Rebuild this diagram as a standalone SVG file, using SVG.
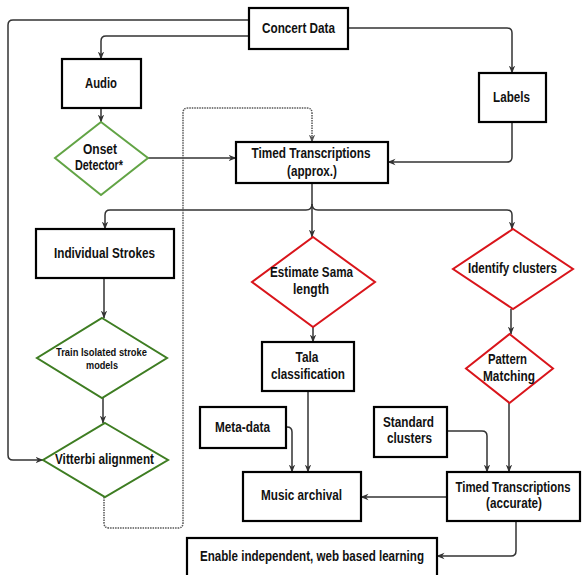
<svg xmlns="http://www.w3.org/2000/svg" width="582" height="575" viewBox="0 0 582 575">
<style>
.box{fill:#fff;stroke:#000;stroke-width:2.2}
.dg{fill:#fff;stroke:#3e7d22;stroke-width:2}
.dl{fill:#fff;stroke:#62a445;stroke-width:2}
.dr{fill:#fff;stroke:#d9151b;stroke-width:2}
text{font-family:"Liberation Sans",Arial,sans-serif;font-weight:bold;font-size:15px;fill:#111;text-anchor:middle}
.sm{font-size:11px}
.c{fill:none;stroke:#333;stroke-width:1.5}
.dot{fill:none;stroke:#555;stroke-width:1.5;stroke-dasharray:1.5 1}
</style>
<defs>
<marker id="a" viewBox="0 0 8 8" markerWidth="8" markerHeight="8" refX="7.5" refY="4" orient="auto" markerUnits="userSpaceOnUse">
<path d="M0,0.8 L8,4 L0,7.2 L2.5,4 Z" fill="#333"/>
</marker>
<marker id="ad" viewBox="0 0 8 8" markerWidth="8" markerHeight="8" refX="7.5" refY="4" orient="auto" markerUnits="userSpaceOnUse">
<path d="M0,0.8 L8,4 L0,7.2 L2.5,4 Z" fill="#555"/>
</marker>
</defs>
<g id="connectors">
<path class="c" marker-end="url(#a)" d="M249,20 H13 Q8,20 8,25 V455 Q8,460 13,460 H43"/>
<path class="c" marker-end="url(#a)" d="M249,36 H106 Q101,36 101,41 V59"/>
<path class="c" marker-end="url(#a)" d="M348,28 H507 Q512,28 512,33 V73"/>
<path class="c" marker-end="url(#a)" d="M512,122 V157 Q512,162 507,162 H388"/>
<path class="c" marker-end="url(#a)" d="M148,158 H236"/>
<path class="c" marker-end="url(#a)" d="M101,108 V122"/>
<path class="c" marker-end="url(#a)" d="M312,183 V237"/>
<path class="c" marker-end="url(#a)" d="M312,204 Q312,210 306,210 H110 Q105,210 105,215 V229"/>
<path class="c" marker-end="url(#a)" d="M312,204 Q312,210 318,210 H507 Q512,210 512,215 V229"/>
<path class="c" marker-end="url(#a)" d="M104,278 V318"/>
<path class="c" marker-end="url(#a)" d="M103,398 V423"/>
<path class="c" marker-end="url(#a)" d="M313,327 V342"/>
<path class="c" marker-end="url(#a)" d="M511,309 V334"/>
<path class="c" marker-end="url(#a)" d="M286,427 H287 Q292,427 292,432 V472"/>
<path class="c" marker-end="url(#a)" d="M308,391 V472"/>
<path class="c" marker-end="url(#a)" d="M447,431 H482 Q487,431 487,436 V472"/>
<path class="c" marker-end="url(#a)" d="M509,403 V472"/>
<path class="c" marker-end="url(#a)" d="M447,497 H361"/>
<path class="c" marker-end="url(#a)" d="M516,521 V551 Q516,556 511,556 H437"/>
<path class="dot" marker-end="url(#ad)" d="M104,497 V523 Q104,528 109,528 H178 Q183,528 183,523 V113 Q183,108 188,108 H307 Q312,108 312,113 V142"/>
</g>
<g id="concert-data"><rect class="box" x="249" y="8" width="99" height="41"/><text x="298.5" y="33" textLength="73" lengthAdjust="spacingAndGlyphs">Concert Data</text></g>
<g id="audio"><rect class="box" x="62" y="59" width="79" height="49"/><text x="101" y="88" textLength="32" lengthAdjust="spacingAndGlyphs">Audio</text></g>
<g id="labels"><rect class="box" x="479" y="73" width="67" height="49"/><text x="511.5" y="102" textLength="37" lengthAdjust="spacingAndGlyphs">Labels</text></g>
<g id="onset-detector"><polygon class="dl" points="101,122 148,158 101,195 55,158"/><text x="100" y="154" textLength="34" lengthAdjust="spacingAndGlyphs">Onset</text><text x="99" y="170" textLength="48" lengthAdjust="spacingAndGlyphs">Detector*</text></g>
<g id="timed-approx"><rect class="box" x="236" y="142" width="152" height="41"/><text x="311" y="158" textLength="119" lengthAdjust="spacingAndGlyphs">Timed Transcriptions</text><text x="312" y="176" textLength="50" lengthAdjust="spacingAndGlyphs">(approx.)</text></g>
<g id="individual-strokes"><rect class="box" x="36" y="229" width="138" height="49"/><text x="104.5" y="258" textLength="101" lengthAdjust="spacingAndGlyphs">Individual Strokes</text></g>
<g id="train-models"><polygon class="dg" points="102,318 167,358 102,398 37,358"/><text class="sm" x="101.5" y="356" textLength="91" lengthAdjust="spacingAndGlyphs">Train Isolated stroke</text><text class="sm" x="102" y="369" textLength="32" lengthAdjust="spacingAndGlyphs">models</text></g>
<g id="vitterbi"><polygon class="dg" points="105,423 168,460 105,497 43,460"/><text x="104.5" y="464" textLength="99" lengthAdjust="spacingAndGlyphs">Vitterbi alignment</text></g>
<g id="estimate-sama"><polygon class="dr" points="313,237 375,282 313,327 252,282"/><text x="311.5" y="277" textLength="83" lengthAdjust="spacingAndGlyphs">Estimate Sama</text><text x="311" y="294" textLength="36" lengthAdjust="spacingAndGlyphs">length</text></g>
<g id="identify-clusters"><polygon class="dr" points="513,229 573,269 513,309 453,269"/><text x="512.5" y="273" textLength="89" lengthAdjust="spacingAndGlyphs">Identify clusters</text></g>
<g id="pattern-matching"><polygon class="dr" points="509.5,334 553,368.5 509.5,403 466,368.5"/><text x="507.5" y="364" textLength="39" lengthAdjust="spacingAndGlyphs">Pattern</text><text x="509" y="381" textLength="52" lengthAdjust="spacingAndGlyphs">Matching</text></g>
<g id="tala-classification"><rect class="box" x="262" y="342" width="92" height="49"/><text x="307" y="362" textLength="23" lengthAdjust="spacingAndGlyphs">Tala</text><text x="308" y="379" textLength="74" lengthAdjust="spacingAndGlyphs">classification</text></g>
<g id="meta-data"><rect class="box" x="200" y="407" width="86" height="41"/><text x="242.5" y="432" textLength="55" lengthAdjust="spacingAndGlyphs">Meta-data</text></g>
<g id="standard-clusters"><rect class="box" x="374" y="407" width="73" height="50"/><text x="408.5" y="427" textLength="51" lengthAdjust="spacingAndGlyphs">Standard</text><text x="409.5" y="443" textLength="45" lengthAdjust="spacingAndGlyphs">clusters</text></g>
<g id="music-archival"><rect class="box" x="243" y="472" width="118" height="49"/><text x="301.5" y="500" textLength="81" lengthAdjust="spacingAndGlyphs">Music archival</text></g>
<g id="timed-accurate"><rect class="box" x="447" y="472" width="133" height="49"/><text transform="translate(513,492) scale(0.76,1)">Timed Transcriptions</text><text x="514" y="508" textLength="56" lengthAdjust="spacingAndGlyphs">(accurate)</text></g>
<g id="enable-learning"><rect class="box" x="187" y="538" width="250" height="45"/><text x="312" y="561" textLength="224" lengthAdjust="spacingAndGlyphs">Enable independent, web based learning</text></g>
</svg>
